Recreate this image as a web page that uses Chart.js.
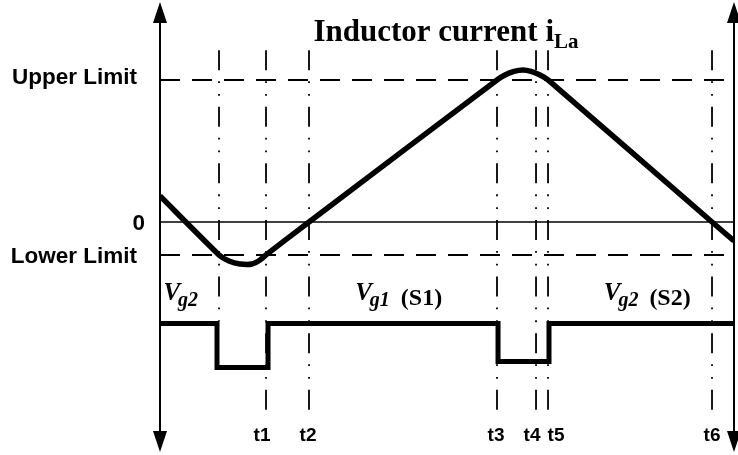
<!DOCTYPE html>
<html>
<head>
<meta charset="utf-8">
<script src="https://cdn.jsdelivr.net/npm/chart.js@4/dist/chart.umd.min.js"></script>
<style>
  body { margin: 0; background: #fff; }
  canvas { display: block; }
</style>
</head>
<body>
<canvas id="chartIL" width="738" height="455"></canvas>
<script>
// --- waveform data (time in arbitrary units 0..100, current normalised to Upper Limit = 1) ---
const currentT = [0, 10.28, 12.02, 13.94, 16.03, 17.42, 18.47, 25.96, 58.71, 60.10, 61.67, 63.24, 64.63, 66.20, 67.60, 96.17, 100];
const currentI = [0.183, -0.232, -0.275, -0.296, -0.296, -0.268, -0.232, 0, 1, 1.035, 1.060, 1.070, 1.060, 1.035, 1, 0, -0.134];

// gate signal: 1 = Vg1 (S1) on, 0 = Vg2 (S2) on
const gateT = [0, 9.93, 18.82, 58.89, 67.77, 100];
const gateV = [1, 0, 1, 0.14, 1, 1];

// hysteresis band
const upperLimit = 1;
const lowerLimit = -0.232;

// switching instants
const markT = [10.28, 18.47, 25.96, 58.71, 65.51, 67.60, 96.17];
const markLabels = ['', 't1', 't2', 't3', 't4', 't5', 't6'];

const levelLabels = ['Upper Limit', '0', 'Lower Limit'];
const levelValues = [upperLimit, 0, lowerLimit];

// --- datasets ---
const hLine = (y, dash, width) => ({
    data: [{ x: 0, y: y }, { x: 100, y: y }],
    borderColor: '#000', borderWidth: width, borderDash: dash,
    pointRadius: 0, order: 5
});

const datasets = [
    {
        label: 'iLa',
        data: currentT.map((t, i) => ({ x: t, y: currentI[i] })),
        borderColor: '#000', borderWidth: 5.5, borderJoinStyle: 'round',
        tension: 0.2, pointRadius: 0, order: 0
    },
    {
        label: 'gate',
        yAxisID: 'yg',
        data: gateT.map((t, i) => ({ x: t, y: gateV[i] })),
        borderColor: '#000', borderWidth: 5, borderJoinStyle: 'miter',
        stepped: 'before', pointRadius: 0, order: 1
    },
    hLine(upperLimit, [20, 12], 2),
    hLine(0, [], 1.5),
    hLine(lowerLimit, [20, 12], 2)
];

markT.forEach((t, i) => {
    // the first mark stops at the gate edge
    const bottom = i === 0 ? -0.7 : -1.34;
    datasets.push({
        data: [{ x: t, y: 1.21 }, { x: t, y: bottom }],
        borderColor: '#000', borderWidth: 1.8, borderDash: [20, 11, 1.8, 11, 1.8, 11],
        pointRadius: 0, order: 6
    });
});

// axes with arrow heads, level labels, title and gate labels
const annotate = {
    id: 'annotate',
    afterDatasetsDraw(chart) {
        const { ctx, chartArea: a, scales } = chart;
        const x = scales.x, y = scales.y;
        ctx.save();
        ctx.fillStyle = '#000';
        ctx.strokeStyle = '#000';

        // vertical axes
        [a.left, a.right].forEach(ax => {
            ctx.lineWidth = 2;
            ctx.beginPath();
            ctx.moveTo(ax, a.top + 10);
            ctx.lineTo(ax, a.bottom - 10);
            ctx.stroke();
            ctx.beginPath();
            ctx.moveTo(ax, a.top);
            ctx.lineTo(ax - 7, a.top + 21);
            ctx.lineTo(ax + 7, a.top + 21);
            ctx.closePath();
            ctx.fill();
            ctx.beginPath();
            ctx.moveTo(ax, a.bottom);
            ctx.lineTo(ax - 7, a.bottom - 21);
            ctx.lineTo(ax + 7, a.bottom - 21);
            ctx.closePath();
            ctx.fill();
        });

        // level labels
        ctx.font = 'bold 22.5px "Liberation Sans", Arial, sans-serif';
        ctx.textAlign = 'right';
        ctx.textBaseline = 'alphabetic';
        const levelX = [137, 145, 137];
        const levelDy = [4, 8, 8];
        levelLabels.forEach((s, i) => {
            ctx.fillText(s, levelX[i], y.getPixelForValue(levelValues[i]) + levelDy[i]);
        });

        // switching instant labels
        ctx.font = 'bold 19px "Liberation Sans", Arial, sans-serif';
        ctx.textAlign = 'center';
        const nudge = [0, -4, -1, -1, -4, 8, 0];
        markLabels.forEach((s, i) => {
            if (s) ctx.fillText(s, x.getPixelForValue(markT[i]) + nudge[i], 441);
        });

        // title with subscript
        ctx.textAlign = 'left';
        const titleFont = 'bold 31px "Liberation Serif", "Times New Roman", serif';
        const subFont = 'bold 21px "Liberation Serif", "Times New Roman", serif';
        ctx.font = titleFont;
        const main = 'Inductor current i';
        const wMain = ctx.measureText(main).width;
        ctx.font = subFont;
        const wSub = ctx.measureText('La').width;
        const tx = 446 - (wMain + wSub) / 2;
        ctx.font = titleFont;
        ctx.fillText(main, tx, 41);
        ctx.font = subFont;
        ctx.fillText('La', tx + wMain, 48);

        // gate labels: V with subscript and switch name
        const gateLabel = (px, sub, tail) => {
            ctx.font = 'italic bold 25px "Liberation Serif", "Times New Roman", serif';
            ctx.fillText('V', px, 300);
            let cx = px + ctx.measureText('V').width - 2;
            ctx.font = 'italic bold 20px "Liberation Serif", "Times New Roman", serif';
            ctx.fillText(sub, cx, 306);
            cx += ctx.measureText(sub).width;
            if (tail) {
                ctx.font = 'bold 24px "Liberation Serif", "Times New Roman", serif';
                ctx.fillText(tail, cx + 11, 305);
            }
        };
        gateLabel(x.getPixelForValue(0.6), 'g2', '');
        gateLabel(x.getPixelForValue(34.0), 'g1', '(S1)');
        gateLabel(x.getPixelForValue(77.3), 'g2', '(S2)');

        ctx.restore();
    }
};

new Chart(document.getElementById('chartIL'), {
    type: 'line',
    data: { datasets: datasets },
    options: {
        responsive: false,
        animation: false,
        layout: { padding: { left: 160, right: 4, top: 2, bottom: 3 } },
        plugins: { legend: { display: false }, tooltip: { enabled: false } },
        scales: {
            x: { type: 'linear', min: 0, max: 100, display: false },
            y: { type: 'linear', min: -1.62, max: 1.549, display: false },
            yg: { type: 'linear', min: -1.92, max: 8.31, display: false }
        }
    },
    plugins: [annotate]
});
</script>
</body>
</html>
